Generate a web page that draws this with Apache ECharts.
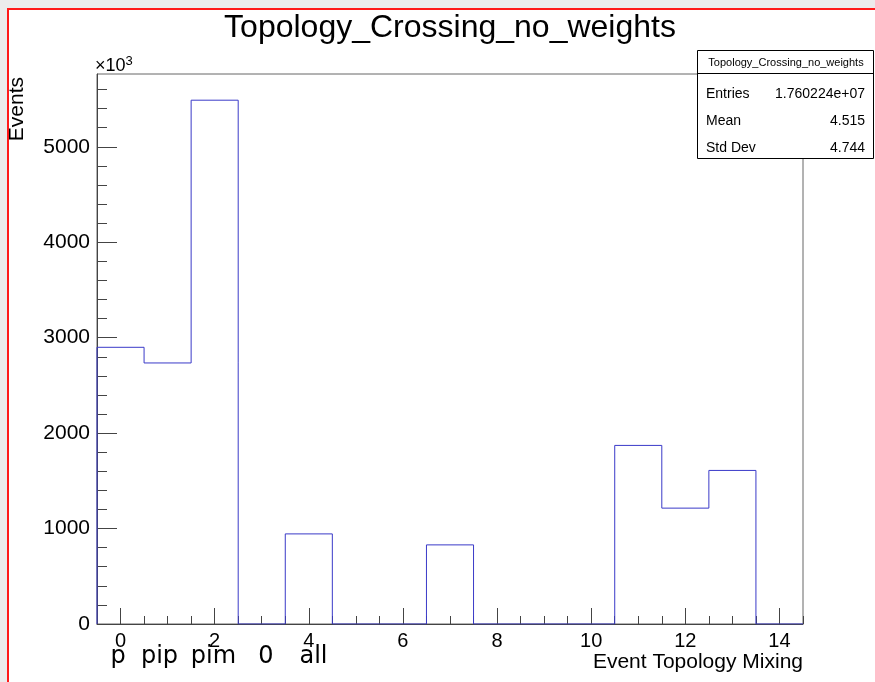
<!DOCTYPE html>
<html>
<head>
<meta charset="utf-8">
<script src="https://cdn.jsdelivr.net/npm/echarts@6/dist/echarts.min.js"></script>
<style>
html,body{margin:0;padding:0;background:#ececec;}
#c{width:875px;height:682px;}
</style>
</head>
<body>
<div id="c"></div>
<script>
// ---- data (values in units of 10^3 events) ----
const binCenters = [0, 1, 2, 3, 4, 5, 6, 7, 8, 9, 10, 11, 12, 13, 14];
const binCounts  = [2899, 2735, 5488, 0, 944, 0, 0, 829, 0, 0, 0, 1871, 1214, 1609, 0];
const xMajorTicks = [0, 2, 4, 6, 8, 10, 12, 14];
const xMinorTicks = [0.5, 1, 1.5, 2.5, 3, 3.5, 4.5, 5, 5.5, 6.5, 7, 7.5, 8.5, 9, 9.5, 10.5, 11, 11.5, 12.5, 13, 13.5, 14.5];
const yMajorTicks = [0, 1000, 2000, 3000, 4000, 5000];
const yMinorTicks = [200, 400, 600, 800, 1200, 1400, 1600, 1800, 2200, 2400, 2600, 2800, 3200, 3400, 3600, 3800, 4200, 4400, 4600, 4800, 5200, 5400, 5600];
const topologyLabels = ['p', 'pip', 'pim', '0', 'all'];
const topologyLabelX = [118, 159.5, 213.5, 266, 313.5];
const statsRows = [['Entries', '1.760224e+07'], ['Mean', '4.515'], ['Std Dev', '4.744']];
const histTitle = 'Topology_Crossing_no_weights';

// build step outline from bin edges
const binWidth = 1;
const stepData = [[binCenters[0] - binWidth / 2, 0]];
binCenters.forEach((c, i) => stepData.push([c - binWidth / 2, binCounts[i]]));
const lastEdge = binCenters[binCenters.length - 1] + binWidth / 2;
stepData.push([lastEdge, binCounts[binCounts.length - 1]]);
stepData.push([lastEdge, 0]);

const xMin = binCenters[0] - binWidth / 2, xMax = lastEdge;
const yMax = 1.05 * Math.max(...binCounts);

const FONT = 'Liberation Sans';
const chart = echarts.init(document.getElementById('c'), null, {renderer: 'canvas'});

const graphics = [
  {type: 'rect', z: -100, shape: {x: 8, y: 9, width: 900, height: 700}, style: {fill: '#fff', stroke: '#ff1a1a', lineWidth: 2}},
  {type: 'text', z: 100, x: 450, y: 28, style: {text: histTitle, font: '32px "' + FONT + '"', fill: '#000', align: 'center', verticalAlign: 'middle'}},
  {type: 'text', z: 100, x: 17, y: 77, rotation: Math.PI / 2, style: {text: 'Events', font: '21px "' + FONT + '"', fill: '#000', align: 'right', verticalAlign: 'middle'}},
  {type: 'text', z: 100, x: 95, y: 66, style: {
      text: '×10{s|3}', font: '18px "' + FONT + '"', fill: '#000', align: 'left', verticalAlign: 'middle',
      rich: {s: {font: '13px "' + FONT + '"', fill: '#000', padding: [0, 0, 10, 0]}}}},
  {type: 'text', z: 100, x: 803, y: 662, style: {text: 'Event Topology Mixing', font: '21px "' + FONT + '"', fill: '#000', align: 'right', verticalAlign: 'middle'}},
  // stats box
  {type: 'rect', z: 100, shape: {x: 697.5, y: 50.5, width: 176, height: 108}, style: {fill: '#fff', stroke: '#000', lineWidth: 1}},
  {type: 'line', z: 101, shape: {x1: 697.5, y1: 73.5, x2: 873.5, y2: 73.5}, style: {stroke: '#000', lineWidth: 1}},
  {type: 'text', z: 101, x: 786, y: 62.5, style: {text: histTitle, font: '11px "' + FONT + '"', fill: '#000', align: 'center', verticalAlign: 'middle'}}
];
statsRows.forEach((r, i) => {
  const y = 94 + i * 27;
  graphics.push({type: 'text', z: 101, x: 706, y: y, style: {text: r[0], font: '14px "' + FONT + '"', fill: '#000', align: 'left', verticalAlign: 'middle'}});
  graphics.push({type: 'text', z: 101, x: 865, y: y, style: {text: r[1], font: '14px "' + FONT + '"', fill: '#000', align: 'right', verticalAlign: 'middle'}});
});
topologyLabels.forEach((t, i) => {
  graphics.push({type: 'text', z: 100, x: topologyLabelX[i], y: 669, style: {text: t, font: '24px "DejaVu Sans"', fill: '#000', align: 'center', verticalAlign: 'bottom'}});
});

const plain = v => String(Math.round(v));

const option = {
  animation: false,
  backgroundColor: '#ececec',
  grid: {left: 97, right: 72, top: 74, bottom: 58, show: true, borderColor: '#666', borderWidth: 1, backgroundColor: 'transparent'},
  xAxis: [
    {type: 'value', min: xMin, max: xMax, position: 'bottom',
     axisLine: {show: true, onZero: false, lineStyle: {color: '#444', width: 1}},
     axisTick: {show: true, inside: true, length: 16, customValues: xMajorTicks, lineStyle: {color: '#444'}},
     axisLabel: {show: true, customValues: xMajorTicks, margin: 7, fontFamily: FONT, fontSize: 20, color: '#000', formatter: plain},
     splitLine: {show: false}},
    {type: 'value', min: xMin, max: xMax, position: 'bottom',
     axisLine: {show: false, onZero: false},
     axisTick: {show: true, inside: true, length: 8, customValues: xMinorTicks, lineStyle: {color: '#444'}},
     axisLabel: {show: false}, splitLine: {show: false}}
  ],
  yAxis: [
    {type: 'value', min: 0, max: yMax, position: 'left',
     axisLine: {show: true, onZero: false, lineStyle: {color: '#444', width: 1}},
     axisTick: {show: true, inside: true, length: 20, customValues: yMajorTicks, lineStyle: {color: '#444'}},
     axisLabel: {show: true, customValues: yMajorTicks, margin: 7, fontFamily: FONT, fontSize: 21, color: '#000', formatter: plain},
     splitLine: {show: false}},
    {type: 'value', min: 0, max: yMax, position: 'left',
     axisLine: {show: false, onZero: false},
     axisTick: {show: true, inside: true, length: 10, customValues: yMinorTicks, lineStyle: {color: '#444'}},
     axisLabel: {show: false}, splitLine: {show: false}}
  ],
  series: [{
    type: 'line', xAxisIndex: 0, yAxisIndex: 0, step: 'end', showSymbol: false, symbol: 'none',
    data: stepData, lineStyle: {color: '#3a3ac8', width: 1}, z: 3, silent: true
  }],
  graphic: graphics
};
chart.setOption(option);
</script>
</body>
</html>
